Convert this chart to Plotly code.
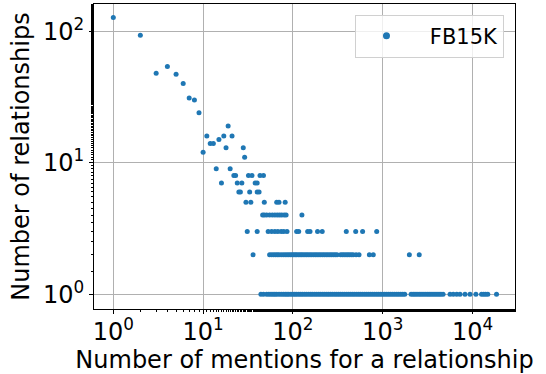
import plotly.graph_objects as go

# Number of mentions (x) grouped by number of relationships (y)
x_y127 = [1]
x_y93 = [2]
x_y54 = [4]
x_y48 = [3]
x_y47 = [5]
x_y40 = [6]
x_y31 = [7]
x_y30 = [8]
x_y24 = [9]
x_y19 = [19]
x_y16 = [11, 17, 21]
x_y15 = [15]
x_y14 = [12, 13]
x_y13 = [18, 28]
x_y12 = [10]
x_y11 = [29]
x_y9 = [14, 20]
x_y8 = [22, 23, 32, 35, 43, 47]
x_y7 = [16, 24, 27, 38, 40]
x_y6 = [25, 26, 33, 40, 42]
x_y5 = [30, 34, 48, 66, 70, 82]
x_y4 = [46, 48, 51, 55, 59, 63, 67, 71, 75, 80, 84, 126]
x_y3 = [31, 40, 53, 58, 63, 68, 74, 79, 86, 110, 116, 146, 155, 188, 212,
        393, 500, 597, 857]
x_y2 = [36, 55, 58, 61, 64, 67, 70, 74, 78, 82, 86, 90, 94, 98, 102, 106,
        110, 115, 120, 125, 130, 136, 142, 148, 155, 162, 170, 178, 186, 195,
        204, 214, 224, 235, 246, 258, 270, 283, 296, 310, 340, 356, 372, 390,
        408, 427, 447, 468, 505, 545, 710, 785, 1980, 2550]
x_y1 = [44, 47, 51, 54, 57, 60, 63, 66, 70, 74, 78, 82, 86, 90, 95, 100, 105,
        110, 116, 122, 128, 135, 142, 150, 158, 166, 175, 184, 194, 204, 215,
        226, 238, 250, 263, 277, 292, 307, 323, 340, 358, 377, 397, 418, 440,
        463, 487, 513, 540, 568, 598, 630, 663, 698, 735, 774, 815, 858, 903,
        950, 1000, 1053, 1108, 1167, 1228, 1293, 1361, 1433, 1508, 1588, 1672,
        1760, 2070, 2180, 2290, 2410, 2540, 2670, 2810, 2960, 3120, 3280, 3450,
        3630, 3820, 4020, 4230, 4450, 4700, 5620, 6110, 6670, 7260, 8250, 9380,
        10900, 12600, 13300, 14000, 14800, 18500]

groups = [
    (127, x_y127), (93, x_y93), (54, x_y54), (48, x_y48), (47, x_y47),
    (40, x_y40), (31, x_y31), (30, x_y30), (24, x_y24), (19, x_y19),
    (16, x_y16), (15, x_y15), (14, x_y14), (13, x_y13), (12, x_y12),
    (11, x_y11), (9, x_y9), (8, x_y8), (7, x_y7), (6, x_y6), (5, x_y5),
    (4, x_y4), (3, x_y3), (2, x_y2), (1, x_y1),
]

xs, ys = [], []
for yv, xl in groups:
    xs.extend(xl)
    ys.extend([yv] * len(xl))

x_tickvals = [1, 10, 100, 1000, 10000]
x_ticktext = ["10<sup>0</sup>", "10<sup>1</sup>", "10<sup>2</sup>",
              "10<sup>3</sup>", "10<sup>4</sup>"]
y_tickvals = [1, 10, 100]
y_ticktext = ["10<sup>0</sup>", "10<sup>1</sup>", "10<sup>2</sup>"]

FONT = "DejaVu Sans"
blue = "#1f77b4"

fig = go.Figure()
fig.add_trace(go.Scatter(
    x=xs, y=ys, mode="markers", name="FB15K", showlegend=False,
    marker=dict(color=blue, size=5, line=dict(width=0)),
))
# legend entry (larger legend marker, as in the reference)
fig.add_trace(go.Scatter(
    x=[None], y=[None], mode="markers", name="\u00a0\u00a0FB15K",
    showlegend=True,
    marker=dict(color=blue, size=7, line=dict(width=0)),
))

axis_common = dict(
    type="log",
    automargin=False,
    showline=True, linecolor="black", linewidth=1, mirror=True,
    showgrid=True, gridcolor="#b0b0b0", gridwidth=1,
    ticks="outside", ticklen=4, tickcolor="black", tickwidth=1,
    tickfont=dict(family=FONT, size=24, color="black"),
    zeroline=False,
    minor=dict(ticks="outside", ticklen=2, tickcolor="black", showgrid=False),
)

fig.update_layout(
    width=546, height=374,
    margin=dict(l=94, r=31, t=4, b=65),
    paper_bgcolor="white", plot_bgcolor="white",
    font=dict(family=FONT, color="black"),
    showlegend=True,
    legend=dict(
        x=0.975, y=0.965, xanchor="right", yanchor="top",
        bgcolor="rgba(255,255,255,0.8)", bordercolor="#d0d0d0", borderwidth=1,
        font=dict(family=FONT, size=21, color="black"),
        itemwidth=50,
    ),
    xaxis=dict(
        **axis_common,
        range=[-0.215, 4.473],
        tickvals=x_tickvals, ticktext=x_ticktext,
        ticklabelstandoff=-3,
        title=dict(text="Number of mentions for a relationship",
                   font=dict(family=FONT, size=24, color="black"), standoff=13),
    ),
    yaxis=dict(
        **axis_common,
        range=[-0.112, 2.207],
        tickvals=y_tickvals, ticktext=y_ticktext,
        title=dict(text="Number of relationships",
                   font=dict(family=FONT, size=24, color="black"), standoff=6),
    ),
)

fig.write_html("out.html")
